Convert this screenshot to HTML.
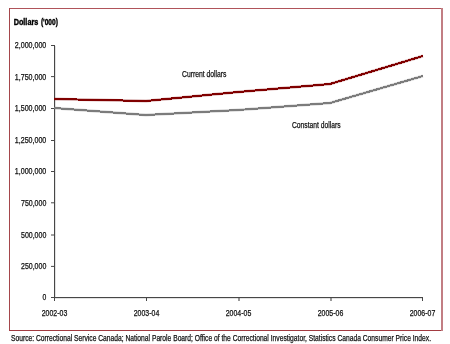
<!DOCTYPE html>
<html><head><meta charset="utf-8">
<style>
html,body{margin:0;padding:0;background:#fff;}
body{width:450px;height:344px;overflow:hidden;}
svg{display:block;}

text{filter:grayscale(1);font-family:"Liberation Sans",sans-serif;fill:#111;stroke:#111;stroke-width:0.25px;}
</style></head>
<body>
<div id="w"><svg width="450" height="344" viewBox="0 0 450 344" xmlns="http://www.w3.org/2000/svg">
<rect x="0" y="0" width="450" height="344" fill="#fff"/>
<g fill="none" shape-rendering="crispEdges">
<rect x="9" y="8" width="433" height="1" fill="#b0545a"/>
<rect x="9" y="8" width="1" height="323" fill="#a5464b"/>
<rect x="9" y="330" width="433" height="1" fill="#a23b41"/>
<rect x="441" y="8" width="2" height="323" fill="#c27e83"/>
</g>
<g font-size="8.4" font-weight="bold">
<text x="13.7" y="25" textLength="24.6" lengthAdjust="spacingAndGlyphs" style="fill:#000;stroke:#000;stroke-width:0.4px">Dollars</text>
<text x="40.9" y="25" textLength="17" lengthAdjust="spacingAndGlyphs" style="fill:#000;stroke:#000;stroke-width:0.4px">('000)</text>
</g>
<g font-size="8.4" text-anchor="end">
<text x="46.3" y="48.4" textLength="31.5" lengthAdjust="spacingAndGlyphs">2,000,000</text>
<text x="46.3" y="79.5" textLength="31.5" lengthAdjust="spacingAndGlyphs">1,750,000</text>
<text x="46.3" y="111.4" textLength="31.5" lengthAdjust="spacingAndGlyphs">1,500,000</text>
<text x="46.3" y="143.4" textLength="31.5" lengthAdjust="spacingAndGlyphs">1,250,000</text>
<text x="46.3" y="174.4" textLength="31.5" lengthAdjust="spacingAndGlyphs">1,000,000</text>
<text x="46.3" y="205.7" textLength="25.3" lengthAdjust="spacingAndGlyphs">750,000</text>
<text x="46.3" y="237.9" textLength="25.3" lengthAdjust="spacingAndGlyphs">500,000</text>
<text x="46.3" y="269.3" textLength="25.3" lengthAdjust="spacingAndGlyphs">250,000</text>
<text x="46.3" y="300.4" textLength="3.8" lengthAdjust="spacingAndGlyphs">0</text>
</g>
<path d="M55.5 46 V297 M55 298.5 H423" stroke="#e2e2e2" stroke-width="1" fill="none"/>
<g stroke="#474747" stroke-width="1" fill="none">
<path d="M54.5 45 V301"/>
<path d="M54 297.5 H423"/>
<path d="M51 45.5 H54.5 M51 76.6 H54.5 M51 108.5 H54.5 M51 140.5 H54.5 M51 171.5 H54.5 M51 202.8 H54.5 M51 235.0 H54.5 M51 266.4 H54.5 M51 297.5 H54.5"/>
<path d="M146.5 297 V301 M422.5 297 V301"/>
<path d="M239 297 V301 M331 297 V301" stroke-width="1.1"/>
</g>
<g font-size="8.4" text-anchor="middle">
<text x="54.5" y="316" textLength="25.5" lengthAdjust="spacingAndGlyphs">2002-03</text>
<text x="146.5" y="316" textLength="25.5" lengthAdjust="spacingAndGlyphs">2003-04</text>
<text x="238.5" y="316" textLength="25.5" lengthAdjust="spacingAndGlyphs">2004-05</text>
<text x="330.5" y="316" textLength="25.5" lengthAdjust="spacingAndGlyphs">2005-06</text>
<text x="422.5" y="316" textLength="25.5" lengthAdjust="spacingAndGlyphs">2006-07</text>
</g>
<polyline points="54,99 146,101 238,92 330,84 423,56" fill="none" stroke="#800000" stroke-width="3" opacity="0.3"/>
<polyline points="54,99 146,101 238,92 330,84 423,56" fill="none" stroke="#800000" stroke-width="2" shape-rendering="crispEdges"/>
<polyline points="54,108 146,115 238,110 330,103 423,76" fill="none" stroke="#7c7c7c" stroke-width="3" opacity="0.3"/>
<polyline points="54,108 146,115 238,110 330,103 423,76" fill="none" stroke="#7c7c7c" stroke-width="2" shape-rendering="crispEdges"/>
<text x="182" y="76.6" font-size="8.4" textLength="44.5" lengthAdjust="spacingAndGlyphs">Current dollars</text>
<text x="292" y="127.5" font-size="8.4" textLength="48.5" lengthAdjust="spacingAndGlyphs">Constant dollars</text>
<text x="11" y="341" font-size="8.4" textLength="420" lengthAdjust="spacingAndGlyphs">Source: Correctional Service Canada; National Parole Board; Office of the Correctional Investigator, Statistics Canada Consumer Price Index.</text>
</svg></div>
</body></html>
